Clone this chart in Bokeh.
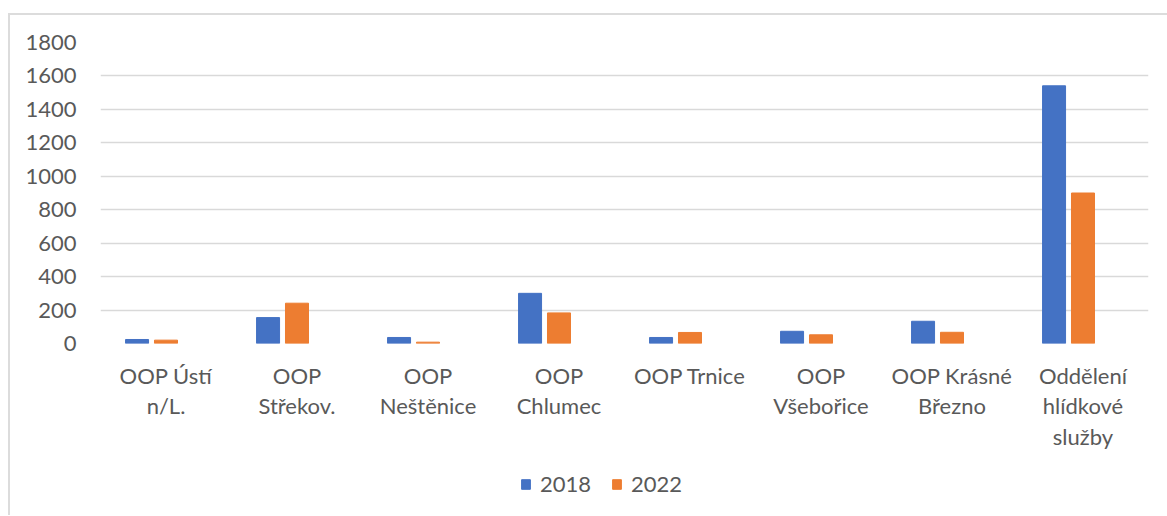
from bokeh.plotting import figure
from bokeh.layouts import column
from bokeh.models import ColumnDataSource, FactorRange, Range1d, Legend, LegendItem, FixedTicker
from bokeh.transform import dodge
from bokeh.embed import file_html
from bokeh.resources import INLINE

categories = ["OOP Ústí\nn/L.", "OOP\nStřekov.", "OOP\nNeštěnice", "OOP\nChlumec",
              "OOP Trnice", "OOP\nVšebořice", "OOP Krásné\nBřezno", "Oddělení\nhlídkové\nslužby"]
series_names = ["2018", "2022"]
values_2018 = [24, 155, 36, 300, 36, 73, 133, 1541]
values_2022 = [20, 241, 8, 183, 66, 52, 67, 900]
y_ticks = [0, 200, 400, 600, 800, 1000, 1200, 1400, 1600, 1800]
colors = ["#4472C4", "#ED7D31"]

FONT = "Lato"
TXT = "#595959"
FS = "22px"

src = ColumnDataSource(dict(cat=categories, v2018=values_2018, v2022=values_2022))

p = figure(x_range=FactorRange(*categories, range_padding=0), y_range=Range1d(0, 1800),
           width=1157, height=445, output_backend="svg", toolbar_location=None,
           min_border_left=90, min_border_right=19, min_border_top=27, min_border_bottom=117)
p.outline_line_color = None
p.background_fill_color = "white"
p.border_fill_color = "white"

bw = 0.1756
p.vbar(x=dodge("cat", -0.221, range=p.x_range), top="v2018", width=bw, source=src,
       fill_color=colors[0], line_color=colors[0])
p.vbar(x=dodge("cat", 0.0, range=p.x_range), top="v2022", width=bw, source=src,
       fill_color=colors[1], line_color=colors[1])

p.xgrid.grid_line_color = None
p.ygrid.grid_line_color = "#d9d9d9"
p.ygrid.grid_line_width = 1.5
p.yaxis.ticker = FixedTicker(ticks=y_ticks)

for ax in (p.xaxis[0], p.yaxis[0]):
    ax.axis_line_color = None
    ax.major_tick_line_color = None
    ax.minor_tick_line_color = None
    ax.major_tick_out = 0
    ax.major_tick_in = 0
    ax.minor_tick_out = 0
    ax.major_label_text_font = FONT
    ax.major_label_text_font_size = FS
    ax.major_label_text_color = TXT

p.yaxis.major_label_standoff = 24
p.xaxis.major_label_standoff = 18
p.xaxis.major_label_text_line_height = 1.14

# legend strip below the chart
p2 = figure(x_range=Range1d(0, 1), y_range=Range1d(0, 1), width=1157, height=55,
            output_backend="svg", toolbar_location=None,
            min_border_left=0, min_border_right=0, min_border_top=0, min_border_bottom=0)
p2.xaxis.visible = False
p2.yaxis.visible = False
p2.grid.grid_line_color = None
p2.outline_line_color = None
p2.border_fill_color = "white"
la = p2.vbar(x=[-5], top=[0], width=0.1, fill_color=colors[0], line_color=colors[0])
lb = p2.vbar(x=[-5], top=[0], width=0.1, fill_color=colors[1], line_color=colors[1])
legend = Legend(items=[LegendItem(label=series_names[0], renderers=[la]),
                       LegendItem(label=series_names[1], renderers=[lb])],
                location=(420, 18), orientation="horizontal", padding=0, margin=0,
                spacing=20, glyph_width=11, glyph_height=12, label_standoff=9,
                border_line_color=None, background_fill_alpha=0,
                label_text_font=FONT, label_text_font_size=FS, label_text_color=TXT)
p2.add_layout(legend)

layout = column(p, p2, spacing=0)
layout.styles = {"border-top": "2px solid #dcdcdc", "border-left": "2px solid #dcdcdc",
                 "margin-top": "13px", "margin-left": "8px"}

open("out.html", "w").write(file_html(layout, INLINE))
